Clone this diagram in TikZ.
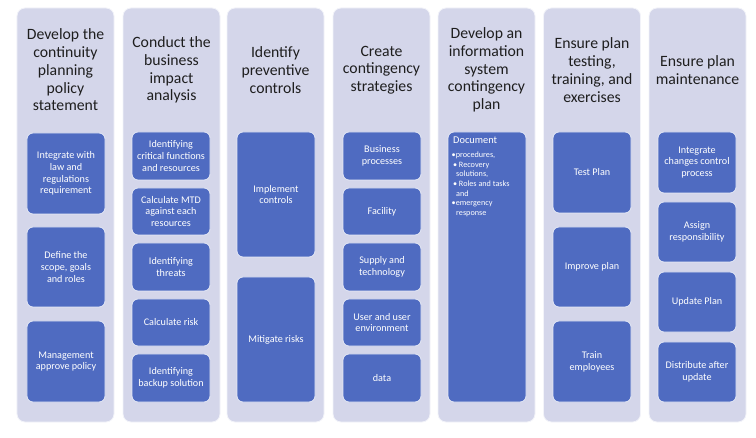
\documentclass[tikz,border=0pt]{standalone}
\usepackage{fontspec}
\setmainfont{Carlito}
\definecolor{lane}{HTML}{D4D6EA}
\definecolor{taskblue}{HTML}{4F6BC1}
\definecolor{ink}{HTML}{1E1E1E}
\begin{document}
\begin{tikzpicture}[x=1bp,y=-1bp,
    column/.style={fill=lane,draw=white!70!lane,line width=.8bp,rounded corners=8bp,minimum width=97bp,minimum height=414bp,inner sep=0pt},
    title/.style={align=center,text=ink,font=\fontsize{15.8}{17.8}\selectfont},
    task/.style={fill=taskblue,draw=white!85!taskblue,line width=.8bp,rounded corners=6bp,minimum width=78bp,inner sep=0pt,align=center,text=white,font=\fontsize{10.2}{11.7}\selectfont},
    note/.style={align=left,text=white,inner sep=0pt,font=\fontsize{8.2}{9.6}\selectfont}]
        \useasboundingbox (0,0) rectangle (756,438);
        % lanes
        \node(c1) at (65.5,215) [column]{};
        \node(c2) at (171.5,215) [column]{};
        \node(c3) at (275.5,215) [column]{};
        \node(c4) at (381.5,215) [column]{};
        \node(c5) at (486.5,215) [column]{};
        \node(c6) at (592,215) [column]{};
        \node(c7) at (697.5,215) [column]{};
        % headings
        \node(t1) at (65.5,70) [title]{Develop the\\continuity\\planning\\policy\\statement};
        \node(t2) at (171.5,70) [title]{Conduct the\\business\\impact\\analysis};
        \node(t3) at (275.5,70) [title]{Identify\\preventive\\controls};
        \node(t4) at (381.5,70) [title]{Create\\contingency\\strategies};
        \node(t5) at (486.5,70) [title]{Develop an\\information\\system\\contingency\\plan};
        \node(t6) at (592,70) [title]{Ensure plan\\testing,\\training, and\\exercises};
        \node(t7) at (697.5,70) [title]{Ensure plan\\maintenance};

        \node(a1) at (66,173.5) [task,minimum height=81bp]{Integrate with\\law and\\regulations\\requirement};
        \node(a2) at (66,267) [task,minimum height=80bp]{Define the\\scope, goals\\and roles};
        \node(a3) at (66,361.5) [task,minimum height=81bp]{Management\\approve policy};

        \node(b1) at (171,156) [task,minimum height=48bp]{Identifying\\critical functions\\and resources};
        \node(b2) at (171,211.5) [task,minimum height=47bp]{Calculate MTD\\against each\\resources};
        \node(b3) at (171,267) [task,minimum height=48bp]{Identifying\\threats};
        \node(b4) at (171,322.5) [task,minimum height=47bp]{Calculate risk};
        \node(b5) at (171,378) [task,minimum height=48bp]{Identifying\\backup solution};

        \node(d1) at (276,194.5) [task,minimum height=125bp]{Implement\\controls};
        \node(d2) at (276,339.5) [task,minimum height=125bp]{Mitigate risks};

        \node(s1) at (382,156) [task,minimum height=48bp]{Business\\processes};
        \node(s2) at (382,211.5) [task,minimum height=47bp]{Facility};
        \node(s3) at (382,267) [task,minimum height=48bp]{Supply and\\technology};
        \node(s4) at (382,322.5) [task,minimum height=47bp]{User and user\\environment};
        \node(s5) at (382,378) [task,minimum height=48bp]{data};

        \node(e1) at (487,267) [task,minimum height=270bp]{};
        \node(e2) at (453,137) [anchor=north west,text=white,inner sep=0pt,font=\fontsize{10.4}{12}\selectfont]{Document};
        \node(e3) at (451.5,152) [anchor=north west,note]{•procedures,\\
            \,• Recovery\\
            \hspace*{4.5bp}solutions,\\
            \,• Roles and tasks\\
            \hspace*{4.5bp}and\\
            •emergency\\
            \hspace*{4.5bp}response};

        \node(f1) at (592,172.5) [task,minimum height=81bp]{Test Plan};
        \node(f2) at (592,267) [task,minimum height=80bp]{Improve plan};
        \node(f3) at (592,361.5) [task,minimum height=81bp]{Train\\employees};

        \node(g1) at (697,162.5) [task,minimum height=61bp]{Integrate\\changes control\\process};
        \node(g2) at (697,232) [task,minimum height=60bp]{Assign\\responsibility};
        \node(g3) at (697,302) [task,minimum height=60bp]{Update Plan};
        \node(g4) at (697,372) [task,minimum height=60bp]{Distribute after\\update};
    \end{tikzpicture}
\end{document}
